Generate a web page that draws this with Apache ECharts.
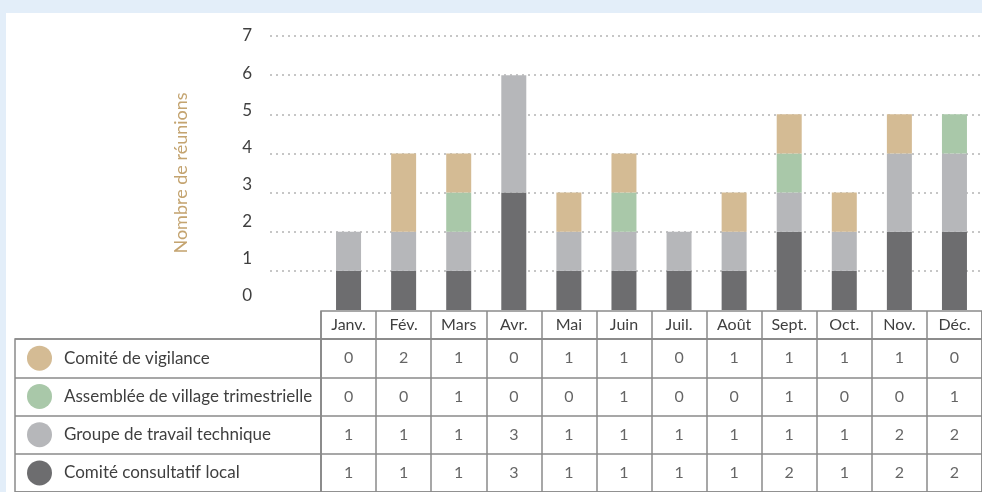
<!DOCTYPE html>
<html>
<head>
<meta charset="utf-8">
<script src="https://cdn.jsdelivr.net/npm/echarts@6/dist/echarts.min.js"></script>
<style>
html,body{margin:0;padding:0;background:#e3eef9;}
#wrap{position:relative;width:982px;height:492px;overflow:hidden;}
#panel{position:absolute;left:6px;top:13px;right:0;bottom:0;background:#fff;}
#chart{position:absolute;left:0;top:0;width:982px;height:492px;}
</style>
</head>
<body>
<div id="wrap"><div id="panel"></div><div id="chart"></div></div>
<script>
const months = ['Janv.','Fév.','Mars','Avr.','Mai','Juin','Juil.','Août','Sept.','Oct.','Nov.','Déc.'];
const seriesNames = ['Comité de vigilance','Assemblée de village trimestrielle','Groupe de travail technique','Comité consultatif local'];
const vigilance   = [0,2,1,0,1,1,0,1,1,1,1,0];
const assemblee   = [0,0,1,0,0,1,0,0,1,0,0,1];
const groupe      = [1,1,1,3,1,1,1,1,1,1,2,2];
const consultatif = [1,1,1,3,1,1,1,1,2,1,2,2];
const yTicks = [0,1,2,3,4,5,6,7];

const colors = ['#d4bb94','#a9c8a9','#b6b7ba','#6d6d6f'];
const rowsData = [vigilance, assemblee, groupe, consultatif];
const FONT = 'Lato';
const TXT = '#3f3f3f';
const LINE = '#8a8a8a';

const tableCells = [];
rowsData.forEach((arr, r) => arr.forEach((v, m) => tableCells.push([m, r, v])));

const rich = {};
colors.forEach((c, i) => { rich['d' + i] = {width: 25, height: 25, borderRadius: 12.5, backgroundColor: c}; });
rich.t = {fontFamily: FONT, fontSize: 17, color: TXT, padding: [0, 0, 0, 12]};

const chart = echarts.init(document.getElementById('chart'), null, {renderer: 'canvas'});
chart.setOption({
  backgroundColor: 'transparent',
  animation: false,
  grid: [
    {left: 270, right: 0, top: 36, height: 235},
    {left: 321, right: -10, top: 36, height: 274},
    {left: 321, right: -10, top: 311, height: 28, show: true, borderColor: LINE, borderWidth: 1.5},
    {left: 321, right: -10, top: 339, height: 156, show: true, borderColor: LINE, borderWidth: 1.5},
    {left: 15, width: 306, top: 339, height: 156, show: true, borderColor: LINE, borderWidth: 1.5}
  ],
  xAxis: [
    {gridIndex: 0, type: 'value', show: false, min: 0, max: 1},
    {gridIndex: 1, type: 'category', data: months, axisLine: {show: false}, axisTick: {show: false},
      axisLabel: {margin: 7, fontFamily: FONT, fontSize: 16, color: TXT}},
    {gridIndex: 2, type: 'category', data: months, axisLine: {show: false}, axisTick: {show: false},
      axisLabel: {show: false}, splitLine: {show: true, lineStyle: {color: LINE, width: 1.5}}},
    {gridIndex: 3, type: 'category', data: months, axisLine: {show: false}, axisTick: {show: false},
      axisLabel: {show: false}, splitLine: {show: true, lineStyle: {color: LINE, width: 1.5}}},
    {gridIndex: 4, type: 'value', show: false, min: 0, max: 1}
  ],
  yAxis: [
    {gridIndex: 0, type: 'value', min: 1, max: 7, interval: 1, axisLabel: {show: false},
      axisLine: {show: false}, axisTick: {show: false},
      splitLine: {show: true, lineStyle: {color: '#b4b4b4', width: 1.5, type: [2, 4]}}},
    {gridIndex: 1, type: 'value', min: -0.4, max: 7, position: 'left', offset: 51, axisLine: {show: false},
      axisTick: {show: false}, splitLine: {show: false},
      axisLabel: {margin: 18, fontFamily: FONT, fontSize: 17, color: TXT, customValues: yTicks},
      name: 'Nombre de réunions', nameLocation: 'middle', nameGap: 80,
      nameTextStyle: {fontFamily: FONT, fontSize: 18, color: '#c4a470'}},
    {gridIndex: 1, type: 'value', min: 0, max: 7, interval: 1, show: false},
    {gridIndex: 2, type: 'value', show: false, min: 0, max: 1},
    {gridIndex: 3, type: 'category', data: seriesNames, inverse: true, axisLine: {show: false},
      axisTick: {show: false}, axisLabel: {show: false},
      splitLine: {show: true, lineStyle: {color: LINE, width: 1.5}}},
    {gridIndex: 4, type: 'category', data: seriesNames, inverse: true, axisLine: {show: false},
      axisTick: {show: false}, splitLine: {show: true, lineStyle: {color: LINE, width: 1.5}},
      axisLabel: {inside: true, margin: 12, align: 'left',
        formatter: (v, i) => '{d' + i + '|}{t|' + v + '}', rich: rich}}
  ],
  series: [
    {name: seriesNames[3], type: 'bar', stack: 's', xAxisIndex: 1, yAxisIndex: 2, barWidth: 25, data: consultatif, itemStyle: {color: colors[3]}},
    {name: seriesNames[2], type: 'bar', stack: 's', xAxisIndex: 1, yAxisIndex: 2, barWidth: 25, data: groupe, itemStyle: {color: colors[2]}},
    {name: seriesNames[1], type: 'bar', stack: 's', xAxisIndex: 1, yAxisIndex: 2, barWidth: 25, data: assemblee, itemStyle: {color: colors[1]}},
    {name: seriesNames[0], type: 'bar', stack: 's', xAxisIndex: 1, yAxisIndex: 2, barWidth: 25, data: vigilance, itemStyle: {color: colors[0]}},
    {type: 'scatter', xAxisIndex: 3, yAxisIndex: 4, data: tableCells, symbolSize: 1,
      itemStyle: {color: 'rgba(0,0,0,0)'},
      label: {show: true, position: 'inside', formatter: p => String(p.value[2]),
        fontFamily: FONT, fontSize: 16, color: TXT}}
  ]
});
</script>
</body>
</html>
